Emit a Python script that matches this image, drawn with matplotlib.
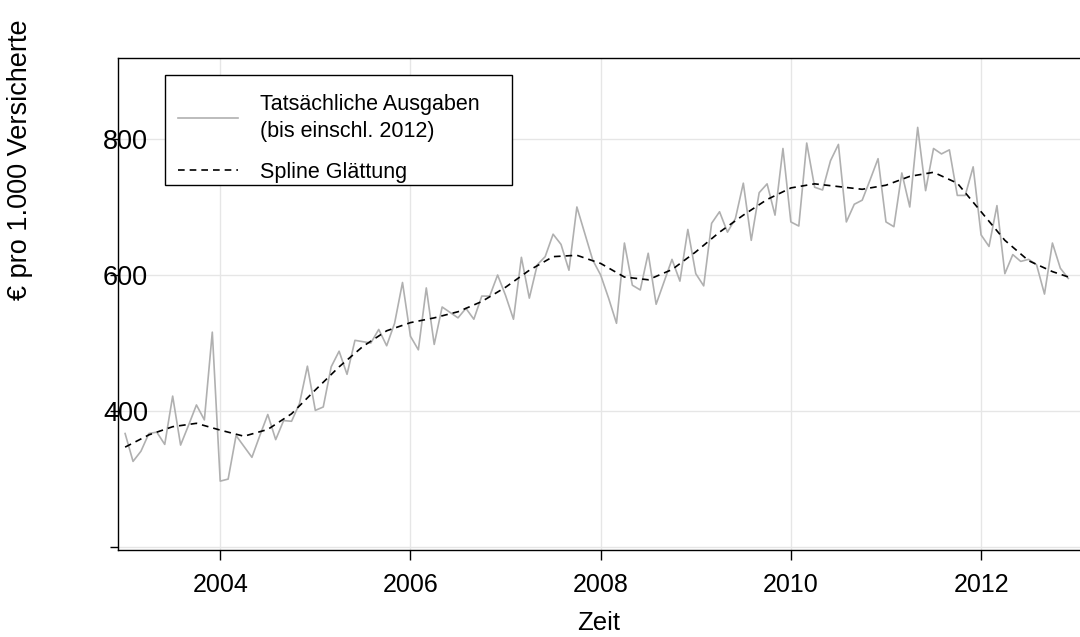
import numpy as np
import matplotlib
matplotlib.use("Agg")
import matplotlib.pyplot as plt
from matplotlib.patches import Rectangle
from matplotlib.ticker import FixedLocator

plt.rcParams['font.family'] = ['Liberation Sans', 'DejaVu Sans']

# monthly values, Jan 2003 .. Dec 2012
start_year = 2003
ausgaben = [
    367, 326, 341, 367, 369, 351, 422, 350, 379, 409, 387, 516,
    297, 300, 364, 348, 332, 364, 395, 358, 386, 385, 411, 466,
    401, 406, 465, 488, 454, 504, 502, 500, 520, 496, 529, 589,
    510, 490, 581, 498, 553, 545, 537, 551, 535, 569, 569, 600,
    570, 535, 626, 566, 615, 627, 660, 645, 607, 700, 661, 622,
    600, 566, 529, 647, 585, 578, 632, 557, 590, 623, 591, 667,
    602, 584, 676, 693, 663, 683, 735, 651, 721, 734, 688, 786,
    678, 672, 794, 729, 725, 768, 792, 678, 704, 710, 740, 771,
    678, 671, 750, 700, 817, 724, 786, 778, 784, 717, 717, 759,
    659, 642, 702, 602, 630, 620, 623, 615, 572, 647, 610, 595,
]

# spline smoothing (quarterly)
spline_t = [
    2003.00, 2003.25, 2003.50, 2003.75, 2004.00, 2004.25, 2004.50, 2004.75,
    2005.00, 2005.25, 2005.50, 2005.75, 2006.00, 2006.25, 2006.50, 2006.75,
    2007.00, 2007.25, 2007.50, 2007.75, 2008.00, 2008.25, 2008.50, 2008.75,
    2009.00, 2009.25, 2009.50, 2009.75, 2010.00, 2010.25, 2010.50, 2010.75,
    2011.00, 2011.25, 2011.50, 2011.75, 2012.00, 2012.25, 2012.50, 2012.75,
    2012.92,
]
spline_v = [
    347, 365, 377, 382, 372, 363, 373, 396,
    431, 465, 495, 518, 530, 537, 546, 561,
    582, 607, 627, 629, 617, 597, 593, 608,
    634, 663, 688, 711, 728, 734, 730, 726,
    732, 745, 751, 735, 693, 651, 621, 605,
    597,
]

x_ticks = [2004, 2006, 2008, 2010, 2012]
y_ticks = [200, 400, 600, 800]
y_ticklabels = ["", "400", "600", "800"]

legend_labels = ["Tatsächliche Ausgaben\n(bis einschl. 2012)", "Spline Glättung"]

t = start_year + np.arange(len(ausgaben)) / 12

W, H = 1080, 637
fig = plt.figure(figsize=(W / 100, H / 100), dpi=100)
ax = fig.add_axes([117.5 / W, 1 - 549.5 / H, 1 - 117.5 / W, (549.5 - 58) / H])

# grid
for xt in x_ticks:
    ax.axvline(xt, color='#e6e6e6', lw=1, zorder=0)
for yt in y_ticks:
    ax.axhline(yt, color='#e6e6e6', lw=1, zorder=0)

ax.plot(t, ausgaben, color='#b0b0b0', lw=1.2, label=legend_labels[0])
ax.plot(spline_t, spline_v, color='black', lw=1.2, ls=(0, (4, 3)), label=legend_labels[1])

ax.set_xlim(2002.92, 2013.04)
ax.set_ylim(196.5, 919)

ax.spines['right'].set_visible(False)
for s in ['left', 'top', 'bottom']:
    ax.spines[s].set_linewidth(1.0)

ax.xaxis.set_major_locator(FixedLocator(x_ticks))
ax.tick_params(axis='x', length=7, width=1, labelsize=18, pad=10)
ax.set_yticks(y_ticks)
ax.set_yticklabels(y_ticklabels)
ax.tick_params(axis='y', length=6, width=1, labelsize=19.5, pad=-28)

ax.set_xlabel("Zeit", fontsize=18.5, labelpad=10)
fig.text(20 / W, 1 - 160 / H, "€ pro 1.000 Versicherte", rotation=90,
         fontsize=19.5, ha='center', va='center')

# legend box drawn separately (wider than the text, like the original)
ax.add_patch(Rectangle((165 / W, 1 - 185 / H), (512 - 165) / W, 110 / H,
                       transform=fig.transFigure, facecolor='white',
                       edgecolor='black', lw=1.0, zorder=3, clip_on=False))
leg = ax.legend(loc='upper left', bbox_to_anchor=(165 / W, 1 - 81 / H),
                bbox_transform=fig.transFigure, prop={'size': 15.5},
                frameon=False, handlelength=2.8, handletextpad=1.0,
                borderpad=0.6, labelspacing=0.95, borderaxespad=0)
leg.set_zorder(4)
for txt in leg.get_texts():
    txt.set_linespacing(1.35)

fig.savefig("out.png", dpi=100)
